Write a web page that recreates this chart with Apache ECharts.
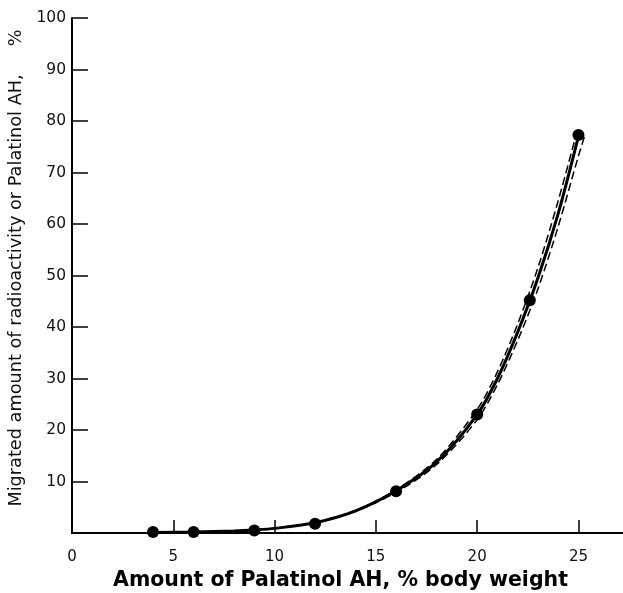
<!DOCTYPE html>
<html>
<head>
<meta charset="utf-8">
<script src="https://cdn.jsdelivr.net/npm/echarts@6/dist/echarts.min.js"></script>
<style>
  html, body { margin: 0; padding: 0; background: #fff; }
  #chart { width: 623px; height: 593px; }
</style>
</head>
<body>
<div id="chart"></div>
<script>
// measured points
var pointX = [4, 6, 9, 12, 16, 20, 22.6, 25]
var pointY = [0.2, 0.2, 0.5, 1.8, 8.1, 23, 45.2, 77.3]

// fitted curve
var curveX = [4, 6, 8, 9, 10, 12, 14, 16, 18, 20, 21, 22, 23, 24, 25]
var curveY = [0.1, 0.2, 0.4, 0.6, 0.9, 2, 4.3, 8.2, 13.8, 23, 30, 39, 49.5, 62, 77]

// dashed bands either side of the curve
var upperX = [12, 14, 16, 18, 20, 21, 22, 23, 24, 24.9]
var upperY = [2, 4.4, 8.4, 14.3, 24, 31.3, 40.6, 51.5, 64.5, 77.5]
var lowerX = [12, 14, 16, 18, 20, 21, 22, 23, 24, 25, 25.3]
var lowerY = [1.9, 4.2, 7.9, 13.3, 22, 28.8, 37.4, 47.4, 59.5, 73.2, 77]

var xTicks = [0, 5, 10, 15, 20, 25]
var yTicks = [0, 10, 20, 30, 40, 50, 60, 70, 80, 90, 100]

function pairs(xs, ys) {
    return xs.map(function (x, i) { return [x, ys[i]] })
}

var font = 'DejaVu Sans'
var ink = '#000'

var dom = echarts.init(document.getElementById('chart'))
dom.setOption({
    animation: false,
    grid: { left: 72, right: 0, top: 18, bottom: 60, containLabel: false, outerBoundsMode: 'none' },
    xAxis: {
        type: 'value',
        min: xTicks[0],
        max: 27.2,
        interval: 5,
        name: 'Amount of Palatinol AH, % body weight',
        nameLocation: 'middle',
        nameGap: 37,
        nameTextStyle: { fontFamily: font, fontSize: 20.5, color: ink, fontWeight: 'bold', padding: [0, 14, 0, 0] },
        axisLine: { lineStyle: { color: ink, width: 2 } },
        axisTick: { inside: true, length: 13, lineStyle: { color: ink, width: 1.5 } },
        axisLabel: {
            showMaxLabel: false,
            margin: 17,
            fontFamily: font, fontSize: 15, color: '#111'
        },
        splitLine: { show: false }
    },
    yAxis: {
        type: 'value',
        min: yTicks[0],
        max: yTicks[yTicks.length - 1],
        interval: 10,
        name: 'Migrated amount of radioactivity or Palatinol AH,     %',
        nameLocation: 'middle',
        nameGap: 41,
        nameTextStyle: { fontFamily: font, fontSize: 17.7, color: '#111', padding: [0, 0, 0, 15] },
        axisLine: { lineStyle: { color: ink, width: 2 } },
        axisTick: { inside: true, length: 16, lineStyle: { color: ink, width: 1.5 } },
        axisLabel: {
            showMinLabel: false,
            margin: 6,
            fontFamily: font, fontSize: 15.5, color: '#111'
        },
        splitLine: { show: false }
    },
    series: [
        {
            type: 'line',
            data: pairs(upperX, upperY),
            smooth: 0.3,
            showSymbol: false,
            lineStyle: { color: ink, width: 1.5, type: [8, 4] }
        },
        {
            type: 'line',
            data: pairs(lowerX, lowerY),
            smooth: 0.3,
            showSymbol: false,
            lineStyle: { color: ink, width: 1.5, type: [8, 4] }
        },
        {
            type: 'line',
            data: pairs(curveX, curveY),
            smooth: 0.3,
            showSymbol: false,
            lineStyle: { color: ink, width: 3 }
        },
        {
            type: 'scatter',
            data: pairs(pointX, pointY),
            symbolSize: 12,
            itemStyle: { color: ink, opacity: 1 }
        }
    ]
})
</script>
</body>
</html>
